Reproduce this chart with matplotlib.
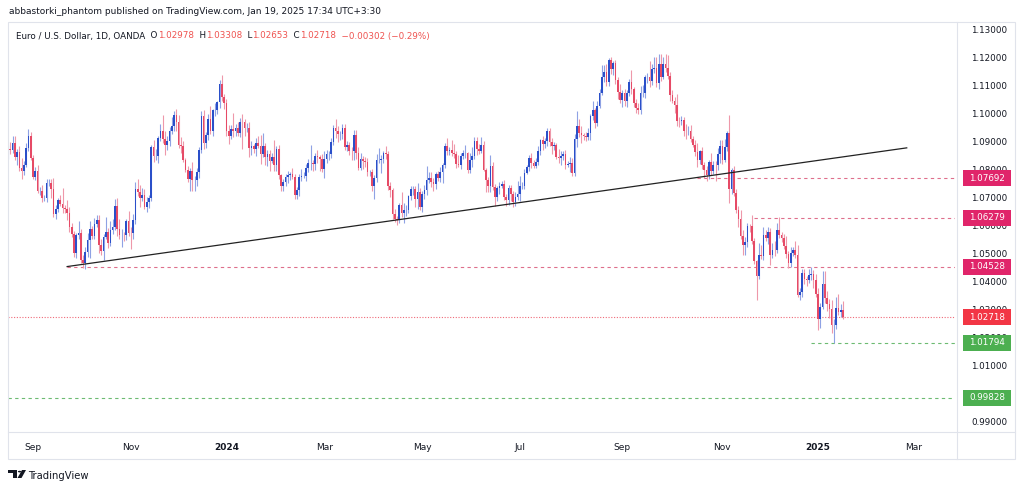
import numpy as np
import pandas as pd
import matplotlib
matplotlib.use("Agg")
import matplotlib.pyplot as plt
from matplotlib.patches import Rectangle, Polygon, Circle
from matplotlib.transforms import blended_transform_factory

# EUR/USD daily, OANDA -- closes in pips (x 1e-4), one line per month
first_open = 10860
close_pips = [
    10874, 10871, 10894, 10845, 10862, 10807, 10796, 10818, 10877, 10922, 10843,  # Aug 23
    10775, 10795, 10723, 10725, 10697, 10699, 10752, 10753, 10732, 10642, 10660,
    10690, 10678, 10661, 10660, 10645, 10593, 10571, 10502, 10565, 10573,  # Sep 23
    10477, 10467, 10504, 10549, 10587, 10563, 10605, 10619, 10530, 10509, 10560,
    10575, 10538, 10583, 10594, 10670, 10589, 10565, 10566, 10565, 10615, 10574,  # Oct 23
    10573, 10620, 10730, 10719, 10700, 10710, 10668, 10684, 10700, 10880, 10848,
    10850, 10912, 10940, 10911, 10888, 10902, 10940, 10955, 10995, 10970, 10890,  # Nov 23
    10884, 10836, 10798, 10765, 10795, 10762, 10763, 10792, 10871, 10991,
    10895, 10923, 10981, 10940, 11012, 11013, 11042, 11105, 11061, 11038,  # Dec 23
    10940, 10921, 10946, 10940, 10950, 10930, 10972, 10970, 10950, 10950, 10876,
    10883, 10875, 10897, 10886, 10855, 10885, 10845, 10855, 10832, 10845, 10818,  # Jan 24
    10874, 10780, 10743, 10754, 10772, 10780, 10785, 10772, 10709, 10727, 10774,
    10777, 10777, 10807, 10822, 10823, 10820, 10850, 10844, 10838, 10804,  # Feb 24
    10838, 10855, 10855, 10900, 10948, 10938, 10926, 10927, 10949, 10880, 10888,
    10868, 10865, 10923, 10859, 10807, 10838, 10830, 10826, 10790, 10790,  # Mar 24
    10740, 10770, 10835, 10835, 10837, 10860, 10855, 10740, 10726, 10642, 10625,
    10618, 10672, 10643, 10655, 10655, 10705, 10730, 10730, 10694, 10720, 10665,  # Apr 24
    10713, 10727, 10762, 10770, 10754, 10749, 10783, 10771, 10790, 10817, 10883, 10866,
    10870, 10858, 10855, 10820, 10818, 10848, 10858, 10858, 10800, 10834, 10848,  # May 24
    10902, 10875, 10868, 10890, 10800, 10763, 10741, 10813, 10739, 10702,
    10734, 10742, 10747, 10703, 10692, 10733, 10713, 10683, 10702, 10713,  # Jun 24
    10740, 10742, 10789, 10810, 10840, 10825, 10814, 10829, 10865, 10907, 10892, 10902,
    10937, 10898, 10884, 10890, 10846, 10841, 10850, 10856, 10818, 10819, 10825,  # Jul 24
    10788, 10911, 10955, 10930, 10923, 10920, 10917, 10932, 10993, 11012, 10967,
    11027, 11076, 11130, 11151, 11114, 11192, 11160, 11183, 11121, 11078, 11048,  # Aug 24
    11073, 11046, 11073, 11112, 11087, 11039, 11020, 11013, 11075, 11075, 11132,
    11133, 11118, 11160, 11163, 11111, 11178, 11133, 11178, 11164, 11134,  # Sep 24
    11068, 11047, 11032, 10975, 10974, 10977, 10940, 10937, 10937, 10909, 10890, 10862,
    10833, 10866, 10817, 10797, 10780, 10827, 10796, 10817, 10815, 10855, 10884,  # Oct 24
    10833, 10880, 10930, 10729, 10800, 10718, 10656, 10622, 10564, 10529, 10541,
    10598, 10597, 10543, 10472, 10418, 10496, 10490, 10566, 10555, 10577,  # Nov 24
    10496, 10512, 10511, 10585, 10567, 10554, 10527, 10497, 10467, 10501, 10512,
    10493, 10351, 10362, 10430, 10407, 10405, 10422, 10428, 10405, 10354,  # Dec 24
    10265, 10307, 10390, 10341, 10320, 10300, 10244, 10245, 10306, 10292, 10298, 10272,  # Jan 25
]
# wick lengths beyond the body, pips
wick_up = [
    15, 24, 26, 27, 12, 22, 35, 12, 18, 23, 12,
    10, 14, 20, 14, 21, 12, 16, 14, 12, 38, 14, 10, 19, 58, 13, 30, 20, 15, 10, 8, 44,
    15, 19, 20, 25, 30, 13, 21, 20, 19, 23, 10, 57, 17, 34, 30, 25, 29, 35, 22, 11, 10, 36,
    20, 20, 26, 36, 26, 24, 19, 19, 10, 7, 27, 24, 10, 25, 54, 27, 17, 12, 33, 14, 22, 24,
    27, 18, 7, 14, 10, 32, 13, 13, 9, 18, 24, 10, 20, 48, 5, 27, 3, 16, 34, 9,
    16, 20, 14, 58, 15, 21, 12, 26, 11, 17, 20, 18, 9, 16, 24, 37, 47, 11, 16, 15, 15, 61,
    12, 15, 5, 13, 11, 14, 8, 22, 11, 12, 9, 24, 13, 14, 15, 65, 10, 11, 21, 7, 19,
    27, 17, 12, 14, 13, 33, 18, 12, 14, 15, 14, 10, 12, 19, 19, 22, 20, 10, 14, 14, 8,
    13, 12, 21, 41, 16, 8, 25, 10, 16, 9, 17, 10, 8, 47, 24, 18, 4, 10, 10, 13, 32, 13,
    12, 17, 50, 21, 20, 16, 7, 12, 21, 7, 12, 29, 10, 37, 34, 12, 33, 10, 12, 30, 6, 25, 34,
    14, 14, 16, 26, 12, 7, 12, 39, 14, 11, 6, 12, 14, 16, 9, 12, 13, 12, 18, 48,
    36, 12, 12, 6, 13, 20, 11, 12, 19, 4, 15, 10, 11, 13, 15, 10, 5, 27, 18, 12, 13, 12, 21,
    17, 15, 54, 26, 25, 9, 13, 17, 5, 35, 8, 20, 14, 44, 23, 29, 9, 10, 6, 11, 12, 29,
    13, 15, 11, 14, 43, 10, 13, 17, 24, 28, 8, 14, 56, 19, 42, 42, 36, 36, 24, 36, 45,
    15, 16, 12, 38, 12, 16, 13, 24, 21, 24, 13, 16, 35, 4, 15, 12, 17, 7, 34, 14, 14, 24, 21,
    21, 30, 7, 66, 5, 14, 13, 13, 35, 21, 19, 10, 9, 39, 13, 4, 42, 33, 30, 19, 19,
    14, 26, 33, 25, 45, 8, 16, 35, 13, 21, 11, 32, 37, 14, 16, 14, 14, 22, 24, 14, 20,
    21, 17, 46, 47, 23, 16, 34, 21, 38, 48, 20, 33,
]
wick_dn = [
    22, 16, 13, 10, 30, 12, 31, 16, 10, 12, 10,
    10, 13, 5, 14, 12, 10, 14, 12, 32, 11, 17, 12, 8, 16, 17, 24, 15, 13, 14, 20, 13,
    12, 19, 23, 16, 66, 13, 13, 11, 29, 14, 33, 10, 17, 10, 12, 11, 28, 14, 42, 22, 17, 10,
    57, 23, 16, 15, 33, 12, 8, 20, 23, 14, 20, 14, 26, 11, 17, 37, 18, 17, 14, 16, 30, 12,
    23, 10, 8, 10, 42, 39, 38, 21, 21, 10, 21, 19, 17, 12, 21, 20, 15, 22, 15, 21,
    18, 29, 13, 22, 18, 10, 14, 95, 28, 14, 32, 24, 14, 26, 10, 34, 11, 28, 32, 37, 8, 23,
    23, 12, 20, 20, 11, 19, 16, 7, 14, 14, 21, 16, 8, 19, 16, 22, 24, 23, 20, 43, 12,
    35, 13, 21, 14, 12, 23, 26, 19, 18, 8, 13, 17, 30, 32, 21, 9, 10, 26, 16, 14, 12,
    16, 46, 13, 13, 46, 14, 17, 13, 24, 20, 11, 17, 10, 11, 33, 21, 12, 12, 22, 27, 36, 11,
    16, 18, 19, 9, 15, 25, 17, 12, 17, 39, 12, 12, 14, 8, 14, 15, 8, 14, 10, 17, 13, 11, 23,
    9, 23, 11, 10, 4, 44, 22, 21, 11, 31, 15, 21, 9, 10, 21, 17, 26, 17, 13, 10,
    27, 10, 13, 5, 14, 19, 7, 9, 12, 14, 20, 15, 19, 13, 28, 15, 8, 16, 25, 14, 14, 10, 28,
    11, 12, 30, 14, 28, 14, 15, 12, 25, 14, 19, 12, 5, 8, 15, 16, 16, 16, 21, 14, 25, 10,
    22, 19, 21, 10, 16, 13, 18, 12, 15, 16, 17, 23, 22, 14, 14, 14, 22, 14, 8, 13, 10,
    21, 10, 28, 20, 20, 13, 18, 28, 12, 11, 10, 12, 22, 13, 13, 27, 19, 13, 16, 13, 54, 15, 31,
    14, 6, 15, 47, 17, 14, 12, 27, 11, 33, 34, 19, 19, 11, 11, 85, 9, 11, 13, 12, 20,
    36, 12, 20, 10, 12, 12, 12, 12, 19, 14, 11, 11, 8, 19, 19, 15, 20, 12, 17, 30, 11,
    39, 33, 6, 18, 27, 31, 30, 66, 14, 14, 20, 7,
]

# drawn levels (price, start date)
levels_pink = [(1.07692, "2024-10-17"), (1.06279, "2024-11-21"), (1.04528, "2023-09-22")]
levels_green = [(1.01794, "2024-12-27"), (0.99828, None)]
last_price = 1.02718
trend_pts = [("2023-09-22", 1.0453), ("2025-02-26", 1.0878)]
# 1.00000 sits fully behind the 0.99828 box, so it is not drawn
price_ticks = [0.99, 1.01, 1.02, 1.03, 1.04, 1.05, 1.06, 1.07, 1.08, 1.09, 1.10, 1.11, 1.12, 1.13]
month_ticks = [("2023-09-01", "Sep"), ("2023-11-01", "Nov"), ("2024-01-02", "2024"),
               ("2024-03-01", "Mar"), ("2024-05-01", "May"), ("2024-07-01", "Jul"),
               ("2024-09-02", "Sep"), ("2024-11-01", "Nov"), ("2025-01-02", "2025"),
               ("2025-03-03", "Mar")]

days = pd.bdate_range("2023-08-17", "2025-03-31")
days = days[~(((days.month == 12) & (days.day == 25)) | ((days.month == 1) & (days.day == 1)))]
pos = {d: i for i, d in enumerate(days)}
bar = lambda s: pos[pd.Timestamp(s)]

n = min(len(close_pips), len(wick_up), len(wick_dn))
close = np.array(close_pips[:n]) / 1e4
open_ = np.r_[first_open, close_pips[:n - 1]] / 1e4
high = np.maximum(open_, close) + np.array(wick_up[:n]) / 1e4
low = np.minimum(open_, close) - np.array(wick_dn[:n]) / 1e4
x = np.arange(n)

W, H = 1024, 490
fig = plt.figure(figsize=(W / 100, H / 100), dpi=100)
ax = fig.add_axes([8 / W, 1 - 432 / H, (955 - 8) / W, (432 - 22) / H])

ppb = (818 - 33) / (bar("2025-01-02") - bar("2023-09-01"))
x0 = bar("2023-09-01")
ax.set_xlim(x0 - (33 - 8) / ppb, x0 + (955 - 33) / ppb)
ax.set_ylim(0.98607, 1.13286)

UP, DN = "#2a4fc9", "#e64a66"
up = close >= open_
ax.vlines(x, low, high, colors=np.where(up, "#8fa2e4", "#ee98aa"), lw=0.8, zorder=2)
ax.bar(x, np.maximum(np.abs(close - open_), 0.00007), bottom=np.minimum(open_, close),
       width=0.74, color=np.where(up, UP, DN), linewidth=0, zorder=3)

xmax = ax.get_xlim()[1]
for p, d in levels_pink:
    ax.hlines(p, bar(d), xmax, colors="#de6f8c", lw=0.8, linestyles=(0, (3, 3)), zorder=1)
for p, d in levels_green:
    ax.hlines(p, bar(d) if d else ax.get_xlim()[0], xmax, colors="#6dbb72", lw=0.8,
              linestyles=(0, (3, 3)), zorder=1)
ax.axhline(last_price, color="#ef6a78", lw=0.8, ls=(0, (1, 1.5)), zorder=1)
ax.plot([bar(d) for d, _ in trend_pts], [p for _, p in trend_pts], color="#222222", lw=0.9, zorder=4)

# axes ticks
ax.yaxis.tick_right()
ax.set_yticks(price_ticks)
ax.set_yticklabels([f"{t:.5f}" for t in price_ticks])
ax.set_xticks([bar(d) for d, _ in month_ticks])
ax.set_xticklabels([l for _, l in month_ticks])
ax.tick_params(axis="y", length=0, pad=11.5, labelsize=6.3, labelcolor="#131722")
ax.tick_params(axis="x", length=0, pad=8, labelsize=6.5, labelcolor="#131722")
for lab in ax.get_xticklabels():
    if lab.get_text().isdigit():
        lab.set_fontweight("bold")
for s in ax.spines.values():
    s.set_visible(False)

# price boxes on the right scale
tr = blended_transform_factory(fig.transFigure, ax.transData)
boxes = [(p, "#e0256a") for p, _ in levels_pink] + [(last_price, "#f23645")] + \
        [(p, "#4caf50") for p, _ in levels_green]
bh = 16 / 2793
for p, c in boxes:
    fig.add_artist(Rectangle((963 / W, p - bh / 2), 48 / W, bh, transform=tr, fc=c, ec="none", zorder=5))
    fig.text(987 / W, p, f"{p:.5f}", transform=tr, ha="center", va="center", color="white",
             fontsize=6.3, zorder=6)

# frame
def fx(px_):
    return px_ / W

def fy(py_):
    return 1 - py_ / H

fig.add_artist(Rectangle((fx(8), fy(459)), (1015 - 8) / W, (459 - 22) / H, fill=False,
                         ec="#e0e3eb", lw=0.8, transform=fig.transFigure))
fig.add_artist(plt.Line2D([fx(957), fx(957)], [fy(22), fy(459)], color="#e0e3eb", lw=0.8))
fig.add_artist(plt.Line2D([fx(8), fx(1015)], [fy(432), fy(432)], color="#e0e3eb", lw=0.8))

# header
fig.text(fx(9), fy(12), "abbastorki_phantom published on TradingView.com, Jan 19, 2025 17:34 UTC+3:30",
         fontsize=6.5, color="#131722", va="center")
r = fig.canvas.get_renderer()
xc = 16
red = "#ef5350"
pieces = [("Euro / U.S. Dollar, 1D, OANDA", "#131722"), ("  O", "#131722"), ("1.02978", red),
          ("  H", "#131722"), ("1.03308", red), ("  L", "#131722"), ("1.02653", red),
          ("  C", "#131722"), ("1.02718", red), ("  \u22120.00302 (\u22120.29%)", red)]
for s, c in pieces:
    t = fig.text(fx(xc), fy(36), s, fontsize=6.3, color=c, va="center")
    xc = t.get_window_extent(r).x1

# TradingView logo
k = fig.transFigure
fig.add_artist(Polygon([(fx(8), fy(470)), (fx(17), fy(470)), (fx(17), fy(478)), (fx(13), fy(478)),
                        (fx(13), fy(473)), (fx(8), fy(473))], closed=True, fc="#131722", transform=k))
fig.add_artist(Circle((fx(19.6), fy(471.6)), 1.7 / W, fc="#131722", transform=k))
fig.add_artist(Polygon([(fx(22), fy(470)), (fx(26), fy(470)), (fx(21.5), fy(478)), (fx(17.5), fy(478))],
                       closed=True, fc="#131722", transform=k))
fig.text(fx(28), fy(476), "TradingView", fontsize=7.2, color="#131722", va="center")

fig.savefig("out.png", dpi=100, facecolor="white")
